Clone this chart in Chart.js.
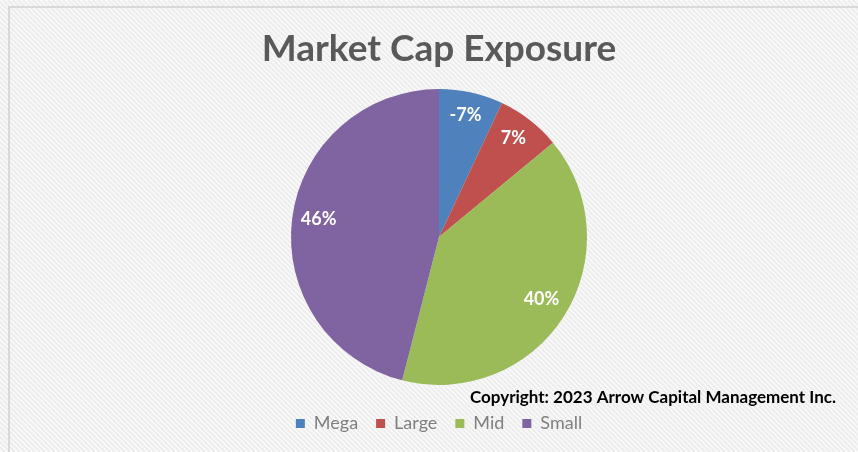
<!DOCTYPE html>
<html>
<head>
<meta charset="utf-8">
<script src="https://cdn.jsdelivr.net/npm/chart.js@4"></script>
<style>
  html, body { margin: 0; padding: 0; background: #fff; }
  #wrap { width: 858px; height: 452px; position: relative; }
</style>
</head>
<body>
<div id="wrap"><canvas id="capChart" width="858" height="452"></canvas></div>
<script>
// ===== data =====
const SEGMENTS = ['Mega', 'Large', 'Mid', 'Small'];
const EXPOSURE = [-7, 7, 40, 46];   // percent, as labelled
const SLICE_COLORS = ['#4f81bd', '#c0504d', '#9bbb59', '#8064a2'];
const TITLE = 'Market Cap Exposure';
const COPYRIGHT = 'Copyright: 2023 Arrow Capital Management Inc.';

const FONT = "Lato, 'Open Sans', sans-serif";

// hatched panel background + frame
const panelBackground = {
  id: 'panelBackground',
  beforeDraw(chart) {
    const { ctx, width, height } = chart;
    ctx.save();
    ctx.fillStyle = '#fbfbfb';
    ctx.fillRect(0, 0, width, height);
    ctx.strokeStyle = '#ededed';
    ctx.lineWidth = 2;
    for (let k = -height; k < width + height; k += 5) {
      ctx.beginPath();
      ctx.moveTo(k, 0);
      ctx.lineTo(k + height, height);
      ctx.stroke();
    }
    ctx.strokeStyle = '#d9d9d9';
    ctx.lineWidth = 2;
    ctx.strokeRect(9, 7, width + 10, height + 10);
    ctx.restore();
  }
};

// percent labels inside slices
const sliceLabels = {
  id: 'sliceLabels',
  afterDatasetsDraw(chart) {
    const { ctx } = chart;
    const meta = chart.getDatasetMeta(0);
    ctx.save();
    ctx.font = "bold 18px " + FONT;
    ctx.fillStyle = '#ffffff';
    ctx.textAlign = 'center';
    ctx.textBaseline = 'middle';
    meta.data.forEach((arc, i) => {
      const { x, y, startAngle, endAngle, outerRadius } = arc.getProps(['x', 'y', 'startAngle', 'endAngle', 'outerRadius'], true);
      const mid = (startAngle + endAngle) / 2;
      const r = outerRadius * 0.82;
      ctx.fillText(EXPOSURE[i] + '%', x + Math.cos(mid) * r, y + Math.sin(mid) * r - 3);
    });
    ctx.restore();
  }
};

const ctx = document.getElementById('capChart').getContext('2d');
new Chart(ctx, {
  type: 'pie',
  data: {
    labels: SEGMENTS,
    datasets: [{
      data: EXPOSURE.map(v => Math.abs(v)),
      backgroundColor: SLICE_COLORS,
      borderWidth: 0,
    }]
  },
  options: {
    responsive: false,
    animation: false,
    layout: { padding: { top: 6, left: 42, right: 22, bottom: 9.5 } },
    plugins: {
      tooltip: { enabled: false },
      title: {
        display: true,
        text: TITLE,
        color: '#595959',
        font: { family: FONT, size: 37, weight: 'bold', lineHeight: 1.2 },
        padding: { top: 20.8, bottom: 17.8 },
      },
      subtitle: {
        display: true,
        text: COPYRIGHT,
        position: 'bottom',
        align: 'end',
        color: '#000000',
        font: { family: FONT, size: 17, weight: 'bold', lineHeight: 1.2 },
        padding: { top: 2.8, bottom: -11.7 },
      },
      legend: {
        position: 'bottom',
        weight: 1600,
        labels: {
          boxWidth: 9,
          boxHeight: 9,
          padding: 18,
          color: '#7f7f7f',
          font: { family: FONT, size: 18 },
        }
      }
    }
  },
  plugins: [panelBackground, sliceLabels]
});
</script>
</body>
</html>
